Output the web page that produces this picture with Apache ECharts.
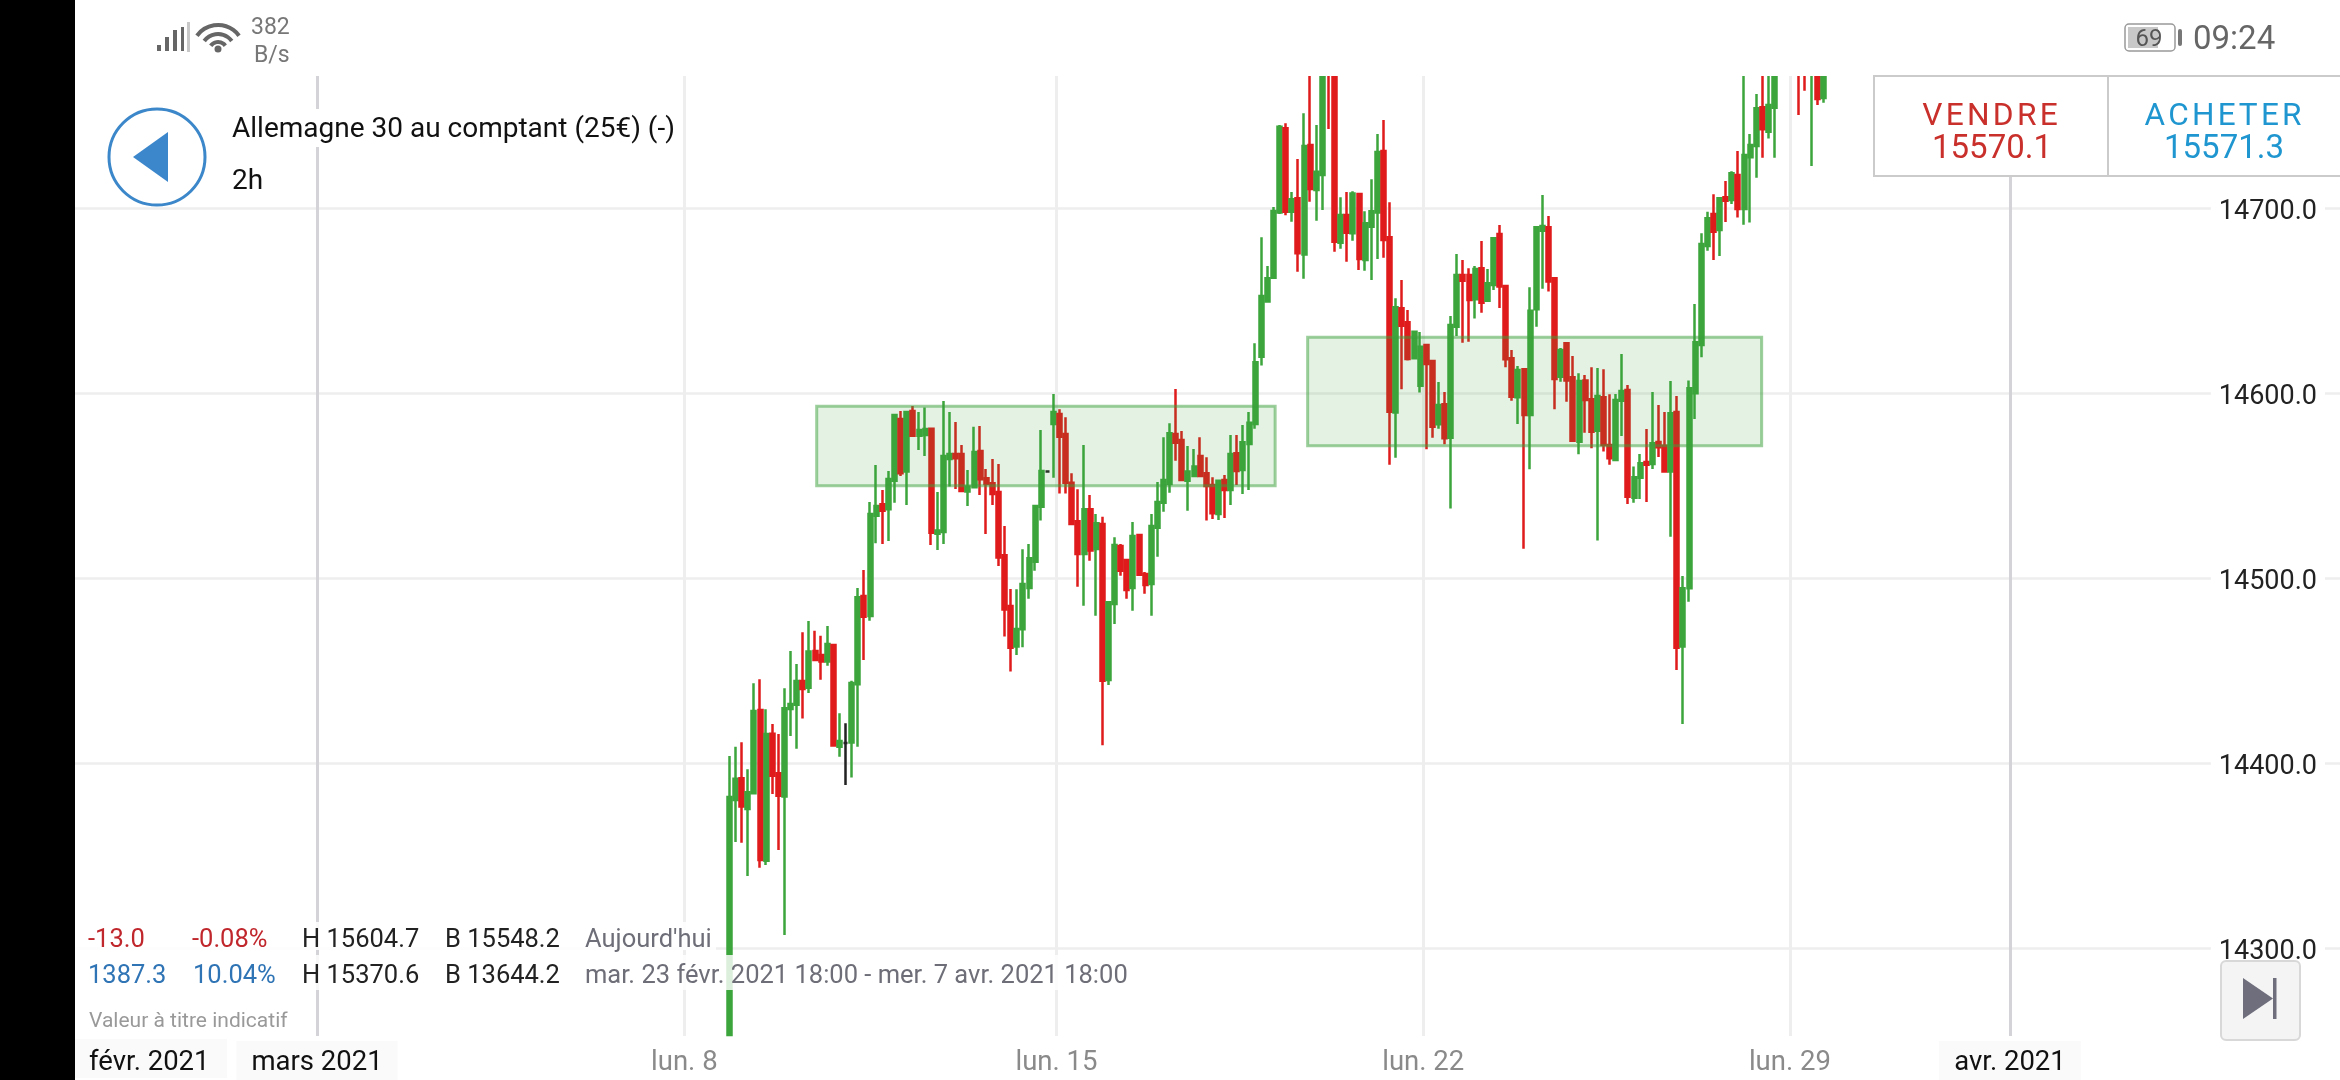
<!DOCTYPE html>
<html><head><meta charset="utf-8">
<style>html,body{margin:0;padding:0;background:#fff}#c{width:2340px;height:1080px}</style>
<script src="https://cdn.jsdelivr.net/npm/echarts@6/dist/echarts.min.js"></script>
</head><body><div id="c"></div>
<script>
// rows: [open, close, low, high]
const candlesA = [
[14253,14381.6,14252.8,14403.8],[14380,14391.4,14357.3,14408.7],[14391.7,14376.4,14356.9,14411.2],[14375.1,14384.2,14338.9,14396.6],
[14383.6,14428.1,14383.1,14443.1],[14428.6,14347.6,14343.4,14445.2],[14347.2,14415.7,14344.9,14429],[14415.8,14393.1,14383.2,14421.1],
[14394.4,14382.3,14353,14415.7],[14381.8,14429.6,14307,14440.4],[14429.2,14431.9,14414.6,14460.5],[14431.5,14444.3,14407.7,14453.5],
[14444.3,14440,14424,14470.6],[14440.7,14460.2,14437.8,14476.8],[14460.5,14455.7,14455.1,14471.4],[14458.4,14454.8,14445,14468.7],
[14454.8,14464.3,14452.6,14474.1],[14463.8,14409.4,14409.4,14463.8],[14408.8,14411.9,14403.4,14426.9],[14410.8,14410.8,14388.1,14421.5],
[14411,14443.2,14392.1,14444.5],[14442.5,14489.6,14408.8,14494.6],[14490.3,14479.1,14455.7,14504.3],[14479.5,14534.6,14476.9,14541.1],
[14533.7,14538.9,14518.8,14561.1],[14539.8,14536.4,14518.4,14547.6],[14537.1,14553.5,14520,14557.8],[14552.6,14588.1,14540.7,14588.1],
[14585.9,14556.6,14555.1,14590.3],[14557.5,14589.7,14539.5,14589.7]];
const candlesB = [
[14590.3,14576.9,14576.9,14593],[14576.9,14580,14569.2,14589.7],[14577.3,14580.5,14565.9,14592.1],[14580.7,14524.5,14517.8,14581.2],
[14523.9,14525.6,14515.1,14546.5],[14524.9,14565.9,14518.4,14595.7],[14564.3,14567,14549.4,14589.7],[14567,14564.7,14548.1,14584.3],
[14567,14547,14546.7,14571.9],[14546.7,14549.4,14538.9,14558.4],[14549,14568.1,14548.7,14581.8],[14568.7,14553.4,14544.9,14582.2],
[14553.9,14550.8,14523.8,14558.9],[14551.2,14545.4,14539.5,14564.3],[14546.5,14511,14506.5,14561.6],[14512.3,14482.9,14468.3,14528.1],
[14484.9,14462.3,14449.4,14494.1],[14462.9,14472.4,14458.4,14493.9],[14472.3,14496.8,14462.5,14515.5],[14494.6,14510.7,14488.8,14518.4],
[14508.8,14538.9,14503.9,14538.9],[14538.5,14557.8,14531,14580],[14557.5,14557.5,14557.5,14557.5],[14583.2,14589.7,14554.2,14599.5],
[14588.6,14576.4,14545.6,14591.2],[14577.8,14551.5,14545.6,14586.9],[14551.5,14529.2,14528.6,14556.6],[14530.6,14513,14495.3,14547.9],
[14513,14537.1,14485,14571.9],[14537.1,14514.8,14509.3,14544.9]];
const candlesC = [
[14515.7,14529.6,14479.6,14534.6],[14529.2,14444.5,14409.6,14533.1],[14444.9,14486.9,14442.2,14486.9],[14485.9,14517.8,14475.1,14522],
[14517.3,14503.9,14501.2,14518.4],[14509.7,14493.5,14488.8,14509.7],[14494.6,14522.7,14482.3,14530.3],[14523.2,14501.8,14501.8,14523.2],
[14502.2,14496.2,14491.5,14503.2],[14496.8,14528.1,14479.6,14534.6],[14527.2,14541.1,14511.5,14551.9],[14540.7,14553,14535.8,14576.1],
[14550.8,14578.2,14546.1,14583.6],[14577.8,14573.1,14563.4,14602.2],[14574.6,14553,14552.4,14579.5],[14552.6,14557.5,14536.4,14571.4],
[14555.1,14560.2,14555.1,14569.7],[14565.9,14555.1,14555.1,14576.1],[14556.6,14549.7,14531,14565.2],[14550.3,14535,14531.9,14554.4],
[14534.6,14552.6,14531.4,14553],[14553,14547.6,14532.4,14555.7],[14547.6,14567,14539.5,14577.3],[14567.4,14557.8,14550.3,14577.3],
[14558.4,14573.4,14545.4,14582.7],[14572.4,14583.9,14547.6,14589.7],[14583.2,14616.6,14580.7,14626.9],[14619.6,14652.4,14614.8,14684.2],
[14649.4,14662,14649.4,14668.7],[14662.3,14698.4,14662.3,14700.5]];
const candlesD = [
[14697.5,14743.9,14696.8,14744.9],[14743.1,14698,14696.1,14745.8],[14698,14704.7,14692.6,14708.7],[14705.2,14675.5,14665.6,14726.5],
[14674.8,14733.5,14661.8,14751.2],[14734.1,14710.3,14703.4,14790],[14709.7,14719.6,14693.1,14744.9],[14717.8,14800,14698.9,14810],
[14810,14785,14742.7,14815],[14800,14681.8,14676.4,14810],[14681.2,14696.2,14678,14705.8],[14696.2,14686.6,14671,14708.7],
[14686.3,14707.9,14682.3,14709],[14707.6,14672.4,14666.5,14707.6],[14671.9,14691.7,14666.1,14698.2],[14689.9,14698.2,14661.1,14715.5],
[14697.5,14730.3,14672.4,14740],[14730.8,14682.7,14673.1,14747.6],[14684.2,14589.9,14561.2,14703.1],[14589.4,14646.3,14565,14651.2],
[14645.8,14636.4,14602,14661.1],[14638.2,14618.4,14617.5,14644.9],[14618.8,14633.1,14618.8,14633.1],[14603.9,14625,14600.2,14633],
[14625.9,14615.7,14569.6,14626.5],[14617.3,14581.8,14575.8,14617.8],[14583.1,14593.5,14580.7,14605.9],[14593.9,14575.5,14572.3,14600.5],
[14575.8,14636.8,14537.5,14641.6],[14635.8,14663.8,14630.8,14675.1]];
const candlesE = [
[14663.8,14660.7,14627.2,14671.9],[14663.8,14650.3,14627.7,14667.4],[14650.6,14667,14640.2,14668.7],[14667.4,14648.8,14643.4,14682.2],
[14649.9,14659.3,14649.9,14667],[14658.4,14683.6,14655.7,14684.2],[14685.9,14657.5,14645.9,14690.8],[14657.8,14618.2,14613.9,14657.8],
[14618.8,14598,14595.8,14623.2],[14597.7,14612.4,14583.2,14614.6],[14612.8,14588.1,14515.8,14612.8],[14588.1,14644.5,14558.8,14657.1],
[14645.2,14689.6,14635.8,14689.6],[14687.7,14690.3,14656.4,14707],[14689.6,14660.2,14654.8,14695.7],[14662,14607.6,14591.2,14662],
[14608.8,14623.2,14606.1,14624.3],[14626.9,14606.7,14595.3,14626.9],[14608.5,14574.2,14574.2,14620],[14573.7,14606.5,14566.9,14610.7],
[14606.7,14596.2,14578.5,14609.7],[14596.6,14579.1,14570.1,14613.9],[14579.6,14598.4,14520.2,14613.5],[14597.7,14571.9,14568.3,14612.8],
[14571.9,14564.7,14561.2,14599.3],[14563.8,14596.2,14563.8,14599.5],[14595.8,14601.1,14576.8,14621.1],[14601.6,14543.9,14540,14604.3],
[14543.4,14554.4,14540.7,14560.2],[14554.2,14562,14542.7,14567]];
const candlesF = [
[14562.7,14561.2,14541.1,14580.5],[14561.6,14572.8,14558.9,14600.5],[14573.5,14570.7,14565.4,14593.5],[14571.5,14557.5,14557.5,14589.7],
[14557.5,14589,14522.3,14606.5],[14589.7,14462.3,14450.3,14598.4],[14462.9,14494.4,14421.1,14501.1],[14494.4,14602.5,14487.2,14606.7],
[14599.8,14627.4,14585.9,14648.1],[14625.9,14680.5,14619.3,14686.3],[14679.5,14694.4,14676.9,14698],[14696.8,14687.2,14671.9,14707.4],
[14688.1,14705.2,14674.1,14705.8],[14705.8,14703.9,14692.4,14714.6],[14704.3,14718.8,14702.2,14719.8],[14717.8,14699.5,14694.8,14730.8],
[14699.5,14728.6,14691,14780],[14727.4,14734.1,14692.1,14740],[14733.5,14753.9,14716.4,14761.6],[14754.4,14742.5,14727.2,14785],
[14741.2,14755.7,14737.5,14785],[14754.2,14790,14727.2,14800],[14778,14795,14775,14805],[14800,14785,14780,14810],
[14785,14805,14780,14815],[14790,14785,14750.3,14795],[14795,14785,14763.4,14800],[14780,14795,14722.7,14800],
[14790,14758.9,14755.7,14795],[14759.5,14790,14756.9,14795]];

const firstCandleBand = 107, bandCount = 371;
const yTicks = [14300,14400,14500,14600,14700];
const xTickBands = [40,100.1,161,221,281,317];
const xTickLabels = ['mars 2021','lun. 8','lun. 15','lun. 22','lun. 29','avr. 2021'];
// [band from, band to, price low, price high]
const zones = [[121.76,196.77,14549.9,14592.8],[202.09,276.37,14571.5,14630.1]];

const candles = [...candlesA,...candlesB,...candlesC,...candlesD,...candlesE,...candlesF];
const cats = []; for(let i=0;i<bandCount;i++) cats.push(String(i));
const padded = [];
for(let i=0;i<firstCandleBand;i++) padded.push(['-','-','-','-']);
candles.forEach(r=>padded.push(r));

const F='Roboto';
function txt(x,y,text,size,color,align){return {type:'text',x:x,y:y,style:{text:text,font:size+'px '+F,fill:color,textAlign:align||'left',textVerticalAlign:'middle'}};}
function rect(x,y,w,h,fill,extra){return {type:'rect',shape:Object.assign({x:x,y:y,width:w,height:h},extra&&extra.shape||{}),style:Object.assign({fill:fill},extra&&extra.style||{})};}
function poly(points,fill){return {type:'polygon',shape:{points:points},style:{fill:fill}};}
function arc(cx,cy,r,w){return {type:'arc',shape:{cx:cx,cy:cy,r:r,startAngle:-Math.PI*0.8,endAngle:-Math.PI*0.2},style:{stroke:'#666',lineWidth:w,fill:null}};}

const overlay = [
  rect(75,0,2265,76,'#fff'),
  rect(227,109,453,38,'#fff'),
  rect(75,922,641,28,'rgba(255,255,255,0.85)'),
  rect(75,955,1052,35,'rgba(255,255,255,0.82)'),
  rect(75,1039,152,39,'#fafafa'),
  rect(0,0,75,1080,'#000'),
  // status bar
  rect(157,45,4,6,'#666'),rect(165,37,4,14,'#666'),rect(173,30,4,21,'#666'),rect(181,27,3,24,'#666'),rect(187,22,3,30,'#c8c8c8'),
  arc(218,51,26,4),arc(218,51,17,4),arc(218,51,9,4),
  {type:'circle',shape:{cx:218,cy:49,r:3.5},style:{fill:'#666'}},
  txt(251,28,'382',23,'#777'),txt(254,56,'B/s',23,'#777'),
  // back button
  {type:'circle',shape:{cx:157,cy:157,r:48},style:{fill:'#fff',stroke:'#3b87c9',lineWidth:3}},
  poly([[133,157],[168,132],[168,182]],'#3c87cc'),
  txt(232,130,'Allemagne 30 au comptant (25€) (-)',28,'#111'),
  txt(232,182,'2h',28,'#111'),
  // battery and clock
  rect(2125,24,50,27,'#fff',{shape:{r:4},style:{stroke:'#999',lineWidth:1.5}}),
  rect(2128,27,30,21,'#c8c8c8'),
  txt(2149,40,'69',24,'#555','center'),
  rect(2178,29,4,17,'#777',{shape:{r:2}}),
  txt(2193,41,'09:24',33,'#666'),
  // price box
  rect(1874,76,480,100,'#fff',{style:{stroke:'#cbcbcb',lineWidth:2}}),
  {type:'line',shape:{x1:2108,y1:76,x2:2108,y2:176},style:{stroke:'#cbcbcb',lineWidth:2}},
  txt(1990,117,'V\u200aE\u200aN\u200aD\u200aR\u200aE',31.7,'#c9302c','center'),
  txt(1992,150,'15570.1',33,'#c9302c','center'),
  txt(2223,117,'A\u200aC\u200aH\u200aE\u200aT\u200aE\u200aR',31.5,'#1f96d0','center'),
  txt(2224,150,'15571.3',33,'#1f96d0','center'),
  // info rows
  txt(88,941,'-13.0',25.5,'#c0272d'),txt(192,941,'-0.08%',25.5,'#c0272d'),
  txt(302,941,'H 15604.7',25.5,'#222'),txt(445,941,'B 15548.2',25.5,'#222'),txt(585,941,"Aujourd'hui",25.5,'#6e6e78'),
  txt(88,977,'1387.3',25.5,'#2f74b5'),txt(193,977,'10.04%',25.5,'#2f74b5'),
  txt(302,977,'H 15370.6',25.5,'#222'),txt(445,977,'B 13644.2',25.5,'#222'),
  txt(585,977,'mar. 23 févr. 2021 18:00 - mer. 7 avr. 2021 18:00',25.5,'#6e6e78'),
  txt(89,1022,'Valeur à titre indicatif',21,'#999'),
  txt(89,1063.5,'févr. 2021',27.5,'#111'),
  // next button
  rect(2221,961,79,79,'#f4f4f5',{shape:{r:5},style:{stroke:'#d8d8d8',lineWidth:2}}),
  poly([[2243,978],[2273,998.5],[2243,1019]],'#6e6e7c'),
  rect(2273,978,3.5,41,'#6e6e7c')
].map(e=>Object.assign(e,{z:50}));

const chart = echarts.init(document.getElementById('c'),null,{renderer:'canvas'});
chart.setOption({
 animation:false,
 backgroundColor:'#fff',
 grid:{left:72.52,top:76,width:2267.48,height:960,containLabel:false,outerBoundsMode:'none'},
 xAxis:[
  {type:'category',data:cats,show:false,boundaryGap:true},
  {type:'value',min:0,max:bandCount,position:'bottom',
   axisLine:{show:false},axisTick:{show:false,customValues:xTickBands},
   axisLabel:{show:true,customValues:xTickBands,margin:5,hideOverlap:false,showMinLabel:true,showMaxLabel:true,
     formatter:v=>{const s=xTickLabels[xTickBands.indexOf(v)]||'';return s.startsWith('lun')?'{g|'+s+'}':'{k|'+s+'}';},
     rich:{g:{fontFamily:F,fontSize:27.5,color:'#8a8a8a',padding:[8,10,3,10]},
           k:{fontFamily:F,fontSize:27.5,color:'#111',backgroundColor:'#fafafa',padding:[8,15,3,15]}}},
   splitLine:{show:true,lineStyle:{width:3,color:['#d3d3d8','#eeeeee','#eeeeee','#eeeeee','#eeeeee','#d3d3d8']}}}
 ],
 yAxis:{type:'value',position:'right',min:14252.4,max:14771.35,
  axisLine:{show:false},axisTick:{show:false,customValues:yTicks},
  axisLabel:{inside:true,customValues:yTicks,margin:15,formatter:v=>'{v|'+v.toFixed(1)+'}',
   rich:{v:{color:'#222',fontFamily:F,fontSize:27,backgroundColor:'#fff',padding:[8,8,0,8]}}},
  splitLine:{show:true,lineStyle:{width:2.5,color:'#eeeeee'}}},
 series:[
  {type:'candlestick',xAxisIndex:0,yAxisIndex:0,data:padded,barWidth:4.5,clip:true,large:false,z:2,
   itemStyle:{color:'#3ca53c',color0:'#e01b1b',borderColor:'#3ca53c',borderColor0:'#e01b1b',borderColorDoji:'#222',borderWidth:2.5}},
  {type:'custom',xAxisIndex:1,yAxisIndex:0,data:zones,z:5,silent:true,
   encode:{x:[0,1],y:[2,3]},
   renderItem:(p,api)=>{const a=api.coord([api.value(0),api.value(3)]),b=api.coord([api.value(1),api.value(2)]);
     return {type:'rect',shape:{x:a[0],y:a[1],width:b[0]-a[0],height:b[1]-a[1]},style:{fill:'rgba(60,160,60,0.14)',stroke:'rgba(60,160,60,0.5)',lineWidth:3}};}}
 ],
 graphic:{elements:overlay}
});
</script></body></html>
